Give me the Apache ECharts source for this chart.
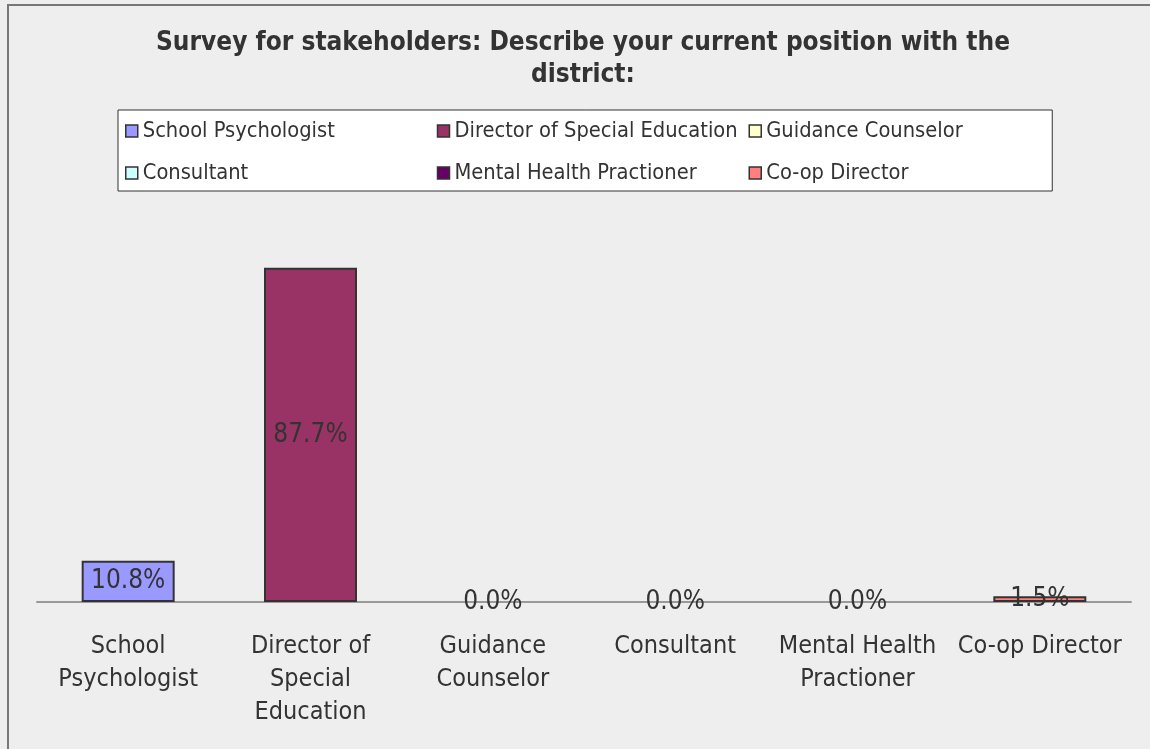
<!DOCTYPE html>
<html>
<head>
<meta charset="utf-8">
<script src="https://cdn.jsdelivr.net/npm/echarts@6/dist/echarts.min.js"></script>
<style>
  html, body { margin: 0; padding: 0; background: #eeeeee; }
  #chart { width: 1150px; height: 749px; }
</style>
</head>
<body>
<div id="chart"></div>
<script>
  // survey answers, percent of respondents
  var categories = ['School Psychologist', 'Director of Special Education', 'Guidance Counselor',
    'Consultant', 'Mental Health Practioner', 'Co-op Director']
  var tickLabels = ['School\nPsychologist', 'Director of\nSpecial\nEducation', 'Guidance\nCounselor',
    'Consultant', 'Mental Health\nPractioner', 'Co-op Director']
  var percents = [10.8, 87.7, 0.0, 0.0, 0.0, 1.5]
  var colors = ['#9999ff', '#993366', '#ffffcc', '#ccffff', '#660066', '#ff8080']

  var font = '"DejaVu Sans Condensed", "DejaVu Sans", sans-serif'

  var series = []
  for (let i in categories) {
    var data = []
    for (let j in categories) {
      if (i !== j) {
        data.push('-')
      } else if (percents[j] === 0) {
        data.push({ value: percents[j], itemStyle: { borderWidth: 0 } })
      } else {
        data.push(percents[j])
      }
    }
    series.push({
      name: categories[i],
      type: 'bar',
      barWidth: 93,
      barGap: '-100%',
      itemStyle: { color: colors[i], borderColor: '#333', borderWidth: 2 },
      label: {
        show: true,
        position: 'inside',
        fontFamily: font,
        fontSize: 26,
        color: '#333',
        formatter: function (p) { return p.value.toFixed(1) + '%' }
      },
      data: data
    })
  }

  var myChart = echarts.init(document.getElementById('chart'))
  myChart.setOption({
    backgroundColor: '#eeeeee',
    animation: false,
    title: {
      text: 'Survey for stakeholders: Describe your current position with the\ndistrict:',
      left: 583,
      top: 27,
      padding: 0,
      textAlign: 'center',
      textStyle: {
        fontFamily: font,
        fontWeight: 'bold',
        fontSize: 26,
        lineHeight: 32,
        color: '#333'
      }
    },
    legend: {
      data: categories,
      left: 118,
      top: 110,
      width: 940,
      orient: 'horizontal',
      backgroundColor: '#ffffff',
      borderColor: '#333',
      borderWidth: 1,
      borderRadius: 0,
      padding: [5, 2, 2, 7],
      itemGap: 10,
      itemWidth: 12,
      itemHeight: 12,
      icon: 'rect',
      itemStyle: { borderColor: '#333', borderWidth: 1.5 },
      textStyle: {
        fontFamily: font,
        fontSize: 21.7,
        lineHeight: 32,
        width: 284,
        color: '#333'
      }
    },
    grid: {
      left: 37,
      right: 19,
      top: 221,
      bottom: 147,
      containLabel: false
    },
    xAxis: {
      type: 'category',
      data: categories,
      axisLine: { lineStyle: { color: '#999', width: 2 } },
      axisTick: { show: false },
      axisLabel: {
        interval: 0,
        margin: 28,
        fontFamily: font,
        fontSize: 25,
        lineHeight: 33,
        color: '#333',
        formatter: function (v, idx) { return tickLabels[idx] }
      }
    },
    yAxis: {
      type: 'value',
      min: 0,
      max: 100,
      show: false
    },
    graphic: [
      {
        type: 'rect',
        shape: { x: 8, y: 5, width: 1200, height: 800 },
        style: { fill: null, stroke: '#777', lineWidth: 2 },
        silent: true
      }
    ],
    series: series
  })
</script>
</body>
</html>
